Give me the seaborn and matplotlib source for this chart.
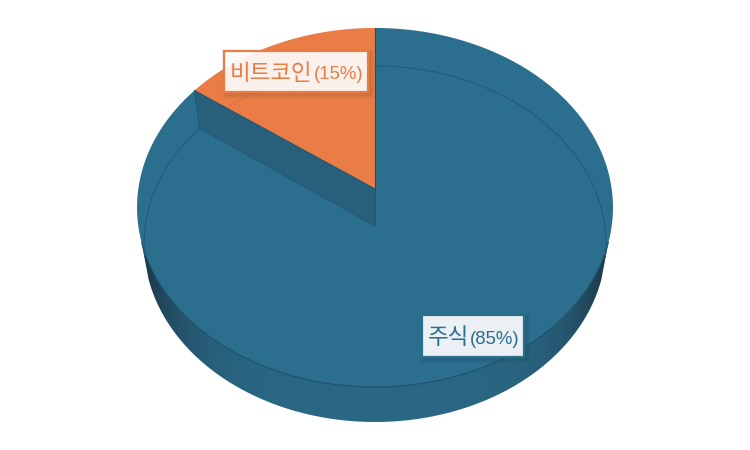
import numpy as np
import matplotlib
matplotlib.use("Agg")
import matplotlib.pyplot as plt
from matplotlib.patches import Rectangle, Polygon
import seaborn as sns

categories = ["주식", "비트코인"]
values = [85, 15]
percent_labels = ["(85%)", "(15%)"]
BLUE = "#2C6E8E"
ORANGE = "#EA7D45"
series_colors = [BLUE, ORANGE]

sns.set_theme(style="white")
plt.rcParams['font.family'] = ['Noto Sans CJK KR', 'DejaVu Sans']

fig = plt.figure(figsize=(7.5, 4.5), dpi=100)
ax = fig.add_axes([0, 0, 1, 1])
ax.axis("off")

# perspective projection of the unit disc: (centre x, apex y, rx, ry, k)
TOP = (375.0, 189.0, 236.7, 177.6, 0.103)
BOT = (375.0, 226.0, 229.8, 176.2, 0.101)


def proj(face, theta):
    cx, cy, rx, ry, k = face
    u, v = np.sin(theta), np.cos(theta)
    w = 1 + k * v
    return cx + rx * u / w, cy - ry * v / w


# Slice angles, clockwise from twelve o'clock
shares = np.array(values, dtype=float) / sum(values)
start = 0.0
spans = []
for s in shares:
    spans.append((start, start + s * 2 * np.pi))
    start += s * 2 * np.pi

# Outer wall: a horizontal gradient clipped to the rim
N_SHADE = 256
pal = sns.blend_palette(["#2A6784", "#1C3746"], N_SHADE)
gx = np.arange(130, 620)
t = np.clip(np.abs(gx - TOP[0]) / 232.0, 0, 1) ** 5
strip = np.array([pal[int(i * (N_SHADE - 1))] for i in t])[None, :, :]
im = ax.imshow(strip, extent=(130, 620, 430, 180), aspect="auto", zorder=1, interpolation="bilinear")
wall_th = np.linspace(np.radians(107), np.radians(253), 300)
tx, ty = proj(TOP, wall_th)
bx_, by_ = proj(BOT, wall_th[::-1])
wall = Polygon(np.c_[np.r_[tx, bx_], np.r_[ty, by_]], closed=True, transform=ax.transData,
               facecolor="none", edgecolor="none")
ax.add_patch(wall)
im.set_clip_path(wall)
ax.set_xlim(0, 750)
ax.set_ylim(450, 0)

# Top faces from the data
for (a, b), col in zip(spans, series_colors):
    th = np.linspace(a, b, 300)
    x, y = proj(TOP, th)
    ax.fill(np.r_[TOP[0], x], np.r_[TOP[1], y], facecolor=col, edgecolor="none", zorder=2)

# Inner cut wall along the edge of the second slice
cut = spans[0][1]
cx1, cy1 = proj(TOP, cut)
cx2, cy2 = proj(BOT, cut)
ax.fill([TOP[0], cx1, cx2, BOT[0]], [TOP[1], cy1, cy2, BOT[1]],
        facecolor="#285F7A", edgecolor="#1F5A78", lw=0.7, zorder=3)
ax.plot([TOP[0], BOT[0]], [TOP[1], BOT[1]], color="#1F5A78", lw=0.6, zorder=3)

# Front rim of the top face
th = np.linspace(np.radians(107), np.radians(253), 300)
ax.plot(*proj(TOP, th), color="#174A63", lw=0.7, zorder=3.5)

# Lines seen through the translucent top: rear rim of the lower face
rear_blue = np.linspace(0, np.radians(100), 120)
ax.plot(*proj(BOT, rear_blue), color="#1F5A78", lw=0.7, zorder=3.5)
rear_left = np.linspace(np.radians(260), cut, 120)
ax.plot(*proj(BOT, rear_left), color="#1F5A78", lw=0.7, zorder=3.5)
rear_orange = np.linspace(np.radians(317), np.radians(332), 40)
ax.plot(*proj(BOT, rear_orange), color="#D96F39", lw=0.6, zorder=3.5)

# Wedge edges
ax.plot([TOP[0], TOP[0]], [proj(TOP, 0.0)[1], TOP[1]], color="#1B4E68", lw=0.8, zorder=3.6)
ax.plot([TOP[0], cx1], [TOP[1], cy1], color="#1F5A78", lw=0.6, zorder=3.6)

# Labels
label_boxes = {"비트코인": (223.5, 50.5, 144, 41), "주식": (421.5, 314.5, 102, 42)}
for cat, pct, col in zip(categories, percent_labels, series_colors):
    bx, by, bw, bh = label_boxes[cat]
    for i in range(6, 0, -1):
        ax.add_patch(Rectangle((bx + 3 - i * 0.7, by + 3 - i * 0.7), bw + 1.4 * i, bh + 1.4 * i,
                               facecolor="#12303F", alpha=0.02, edgecolor="none", zorder=4))
    ax.add_patch(Rectangle((bx, by), bw, bh, facecolor="white", alpha=0.91,
                           edgecolor="none", zorder=5))
    ax.add_patch(Rectangle((bx, by), bw, bh, facecolor="none", edgecolor=col, lw=1.6, zorder=6))
    tmain = ax.text(bx + 6, by + bh / 2 + 2.5, cat, color=col, fontsize=16.2, va="center", ha="left",
                    family=["Noto Sans CJK KR", "DejaVu Sans"], weight="light", zorder=7)
    fig.canvas.draw()
    ext = tmain.get_window_extent()
    ax.text(ext.x1 + 1.5, by + bh / 2 + 3.5, pct, color=col, fontsize=13.4, va="center", ha="left",
            family=["Liberation Sans"], zorder=7)

fig.savefig("out.png", dpi=100, facecolor="white")
